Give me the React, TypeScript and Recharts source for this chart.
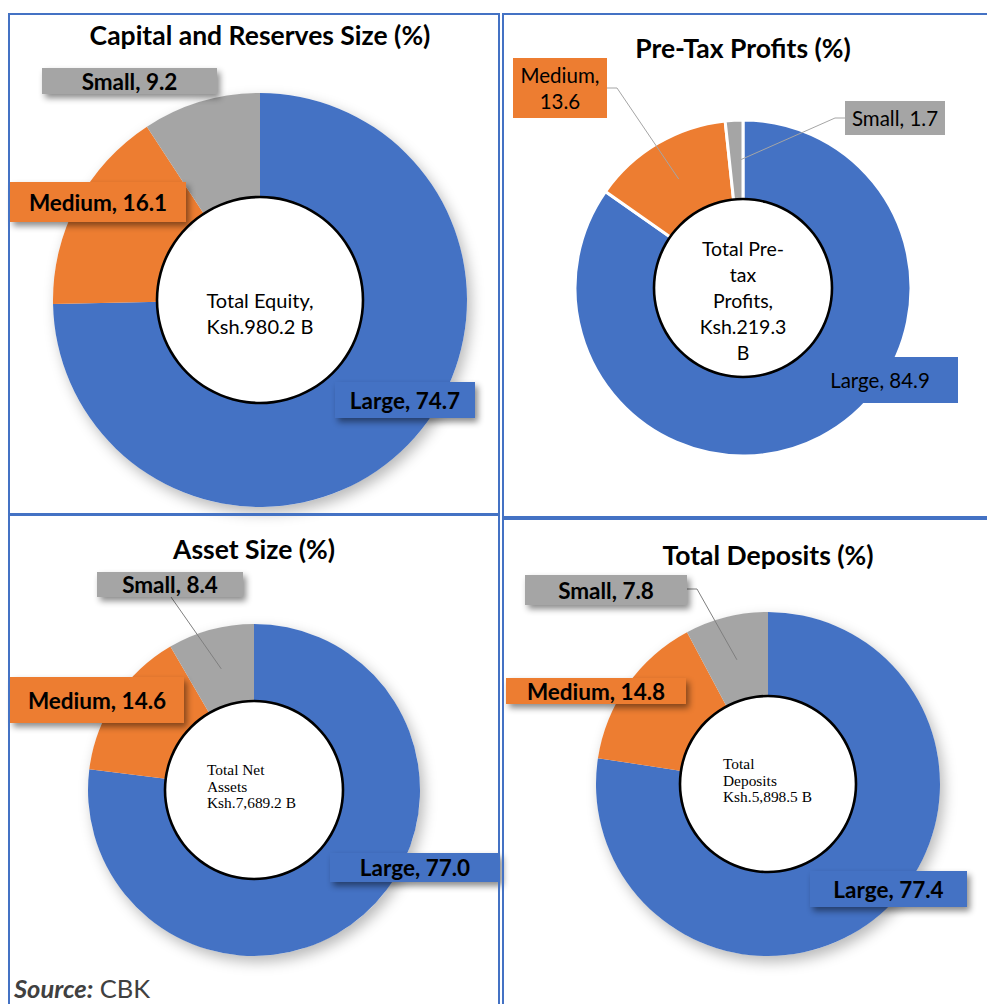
import { PieChart, Pie, Cell } from "recharts";

const GROUPS = ["Large", "Medium", "Small"];
const CAPITAL = [74.7, 16.1, 9.2];
const PROFITS = [84.9, 13.6, 1.7];
const ASSETS = [77.0, 14.6, 8.4];
const DEPOSITS = [77.4, 14.8, 7.8];

const TITLES = [
  "Capital and Reserves Size (%)",
  "Pre-Tax Profits (%)",
  "Asset Size (%)",
  "Total Deposits (%)",
];
const CENTER_TEXT = [
  ["Total Equity,", "Ksh.980.2 B"],
  ["Total Pre-", "tax", "Profits,", "Ksh.219.3", "B"],
  ["Total Net", "Assets", "Ksh.7,689.2 B"],
  ["Total", "Deposits", "Ksh.5,898.5 B"],
];

const COLORS = ["#4472C4", "#ED7D31", "#A5A5A5"];
const BORDER = "#4472C4";
const SANS = "Lato, 'Open Sans', sans-serif";
const SERIF = "'Liberation Serif', 'DejaVu Serif', serif";

type LabelBox = {
  x: number;
  y: number;
  w: number;
  h: number;
  wrap?: boolean;
  lead?: number[][];
};

type Panel = {
  values: number[];
  title: string;
  center: string[];
  frame: number[]; // left, top, right, bottom
  titleY: number;
  cx: number;
  cy: number;
  outer: number;
  hole: number;
  bold: boolean;
  fontSize: number;
  gap: boolean;
  shadow: boolean;
  serifCenter: boolean;
  centerSize: number;
  centerLine: number;
  centerDx: number;
  boxes: LabelBox[];
};

const PANELS: Panel[] = [
  {
    values: CAPITAL,
    title: TITLES[0],
    center: CENTER_TEXT[0],
    frame: [8, 13, 500, 515],
    titleY: 35,
    cx: 260,
    cy: 300,
    outer: 207,
    hole: 103,
    bold: true,
    fontSize: 22.5,
    gap: false,
    shadow: true,
    serifCenter: false,
    centerSize: 20,
    centerLine: 26,
    centerDx: 0,
    boxes: [
      { x: 335, y: 382, w: 140, h: 36 },
      { x: 10, y: 182, w: 176, h: 40 },
      { x: 42, y: 68, w: 175, h: 26 },
    ],
  },
  {
    values: PROFITS,
    title: TITLES[1],
    center: CENTER_TEXT[1],
    frame: [502, 13, 990, 518],
    titleY: 48,
    cx: 743,
    cy: 288,
    outer: 168,
    hole: 89,
    bold: false,
    fontSize: 20.5,
    gap: true,
    shadow: false,
    serifCenter: false,
    centerSize: 19.5,
    centerLine: 26,
    centerDx: 0,
    boxes: [
      { x: 802, y: 357, w: 156, h: 46 },
      { x: 513, y: 58, w: 94, h: 60, wrap: true, lead: [[607, 88], [617, 88]] },
      { x: 845, y: 101, w: 100, h: 34, lead: [[845, 118], [835, 118]] },
    ],
  },
  {
    values: ASSETS,
    title: TITLES[2],
    center: CENTER_TEXT[2],
    frame: [8, 514, 500, 1010],
    titleY: 549,
    cx: 254,
    cy: 790,
    outer: 166,
    hole: 89,
    bold: true,
    fontSize: 22.5,
    gap: false,
    shadow: true,
    serifCenter: true,
    centerSize: 15.4,
    centerLine: 16.5,
    centerDx: -47,
    boxes: [
      { x: 330, y: 853, w: 170, h: 29 },
      { x: 10, y: 677, w: 174, h: 46 },
      { x: 97, y: 572, w: 146, h: 25, lead: [[171, 597]] },
    ],
  },
  {
    values: DEPOSITS,
    title: TITLES[3],
    center: CENTER_TEXT[3],
    frame: [502, 518, 990, 1010],
    titleY: 555,
    cx: 768,
    cy: 784,
    outer: 172,
    hole: 88,
    bold: true,
    fontSize: 22.5,
    gap: false,
    shadow: true,
    serifCenter: true,
    centerSize: 15.4,
    centerLine: 16.5,
    centerDx: -45,
    boxes: [
      { x: 810, y: 871, w: 157, h: 36 },
      { x: 506, y: 678, w: 180, h: 26 },
      { x: 525, y: 575, w: 162, h: 30, lead: [[687, 589], [697, 589]] },
    ],
  },
];

const RAD = Math.PI / 180;

function makeLabel(p: Panel) {
  return (props: any) => {
    const { cx, cy, innerRadius, outerRadius, index } = props;
    const b = p.boxes[index];
    const value = p.values[index];
    // fall back to our own mid-angle if the library doesn't pass one
    let mid = props.midAngle;
    if (mid === undefined) {
      const total = p.values.reduce((s, v) => s + v, 0);
      const before = p.values.slice(0, index).reduce((s, v) => s + v, 0);
      mid = 90 - ((before + value / 2) / total) * 360;
    }
    const r = (innerRadius + outerRadius) / 2;
    const px = cx + r * Math.cos(-mid * RAD);
    const py = cy + r * Math.sin(-mid * RAD);
    const lines = b.wrap
      ? [`${GROUPS[index]},`, value.toFixed(1)]
      : [`${GROUPS[index]}, ${value.toFixed(1)}`];
    const lh = p.fontSize * 1.25;
    const midY = b.y + b.h / 2;
    return (
      <g key={`lbl-${index}`}>
        {b.lead && (
          <polyline
            points={[...b.lead, [px, py]].map((q) => q.join(",")).join(" ")}
            fill="none"
            stroke={p.shadow ? "#7f7f7f" : "#A5A5A5"}
            strokeWidth={1}
          />
        )}
        <rect
          x={b.x}
          y={b.y}
          width={b.w}
          height={b.h}
          fill={COLORS[index]}
          style={
            p.shadow
              ? { filter: "drop-shadow(3px 4px 3px rgba(0,0,0,0.45))" }
              : undefined
          }
        />
        {lines.map((t, i) => (
          <text
            key={i}
            x={b.x + b.w / 2}
            y={midY + (i - (lines.length - 1) / 2) * lh}
            textAnchor="middle"
            dominantBaseline="central"
            fontFamily={SANS}
            fontWeight={p.bold ? 700 : 400}
            fontSize={p.fontSize}
            fill="#000"
          >
            {t}
          </text>
        ))}
      </g>
    );
  };
}

export default function App() {
  return (
    <div
      style={{
        position: "absolute",
        left: 0,
        top: 0,
        width: 987,
        height: 1004,
        background: "#fff",
        overflow: "hidden",
        fontFamily: SANS,
      }}
    >
      {PANELS.filter((p) => p.shadow).map((p, i) => (
        <div
          key={`sh-${i}`}
          style={{
            position: "absolute",
            left: p.cx - p.outer,
            top: p.cy - p.outer,
            width: p.outer * 2,
            height: p.outer * 2,
            borderRadius: "50%",
            background: "#fff",
            boxShadow: "4px 6px 14px rgba(0,0,0,0.28)",
          }}
        />
      ))}
      <div style={{ position: "absolute", left: 0, top: 0 }}>
        <PieChart width={987} height={1004} margin={{ top: 0, right: 0, bottom: 0, left: 0 }}>
          {PANELS.flatMap((p, pi) => [
            <Pie
              key={`ring-${pi}`}
              data={p.values.map((v, i) => ({ name: GROUPS[i], value: v }))}
              dataKey="value"
              nameKey="name"
              cx={p.cx}
              cy={p.cy}
              innerRadius={p.hole - 4}
              outerRadius={p.outer}
              startAngle={90}
              endAngle={-270}
              stroke={p.gap ? "#fff" : "none"}
              strokeWidth={p.gap ? 3 : 0}
              labelLine={false}
              label={makeLabel(p)}
              isAnimationActive={false}
            >
              {p.values.map((_, i) => (
                <Cell key={i} fill={COLORS[i]} />
              ))}
            </Pie>,
            <Pie
              key={`hole-${pi}`}
              data={[{ name: "total", value: 1 }]}
              dataKey="value"
              cx={p.cx}
              cy={p.cy}
              innerRadius={0}
              outerRadius={p.hole}
              startAngle={90}
              endAngle={-270}
              fill="#fff"
              stroke="none"
              isAnimationActive={false}
            />,
            <Pie
              key={`edge-${pi}`}
              data={[{ name: "edge", value: 1 }]}
              dataKey="value"
              cx={p.cx}
              cy={p.cy}
              innerRadius={p.hole - 1.3}
              outerRadius={p.hole + 1.3}
              startAngle={90}
              endAngle={-270}
              fill="#000"
              stroke="none"
              isAnimationActive={false}
            />,
          ])}
        </PieChart>
      </div>

      {PANELS.map((p, i) => (
        <div key={`fr-${i}`}>
          <div
            style={{
              position: "absolute",
              left: p.frame[0],
              top: p.frame[1],
              width: p.frame[2] - p.frame[0],
              height: p.frame[3] - p.frame[1],
              border: `2px solid ${BORDER}`,
              boxSizing: "border-box",
            }}
          />
          <div
            style={{
              position: "absolute",
              left: p.cx - 250,
              width: 500,
              top: p.titleY - 18,
              lineHeight: "36px",
              textAlign: "center",
              fontWeight: 700,
              fontSize: 26.5,
              color: "#000",
            }}
          >
            {p.title}
          </div>
          <div
            style={{
              position: "absolute",
              left: p.serifCenter ? p.cx + p.centerDx : p.cx - 90,
              width: p.serifCenter ? 140 : 180,
              top: p.cy + 2 - (p.center.length * p.centerLine) / 2 + (p.serifCenter ? -5 : 11),
              lineHeight: `${p.centerLine}px`,
              textAlign: p.serifCenter ? "left" : "center",
              fontFamily: p.serifCenter ? SERIF : SANS,
              fontSize: p.centerSize,
              color: "#000",
            }}
          >
            {p.center.map((t, j) => (
              <div key={j}>{t}</div>
            ))}
          </div>
        </div>
      ))}

      <div
        style={{
          position: "absolute",
          left: 14,
          top: 971,
          fontSize: 25.5,
          lineHeight: "34px",
          color: "#404040",
        }}
      >
        <span style={{ fontWeight: 700, fontStyle: "italic" }}>Source:</span> CBK
      </div>
    </div>
  );
}
